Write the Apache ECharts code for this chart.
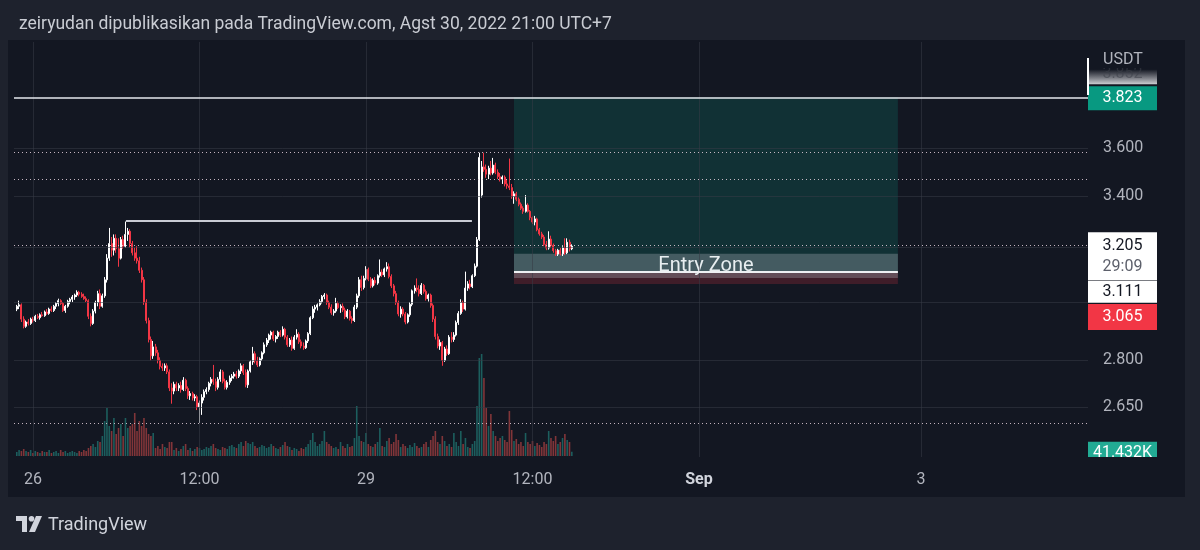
<!DOCTYPE html>
<html><head><meta charset="utf-8">
<script src="https://cdn.jsdelivr.net/npm/echarts@6/dist/echarts.min.js"></script>
<style>html,body{margin:0;padding:0;background:#1e222d;}#c{width:1200px;height:550px;}</style>
</head><body><div id="c"></div>
<script>
const headerText = 'zeiryudan dipublikasikan pada TradingView.com, Agst 30, 2022 21:00 UTC+7';
// x values are hours since 26 Aug 2022 00:00 (UTC+7); 30-minute candles
const firstCandleHour = -3.5;
const candleStepHours = 0.5;
// [open, high, low, close]
const ohlc = [
[2.975,2.990,2.968,2.985],[2.985,3.005,2.975,2.990],[2.990,2.995,2.930,2.940],[2.940,2.950,2.908,2.915],
[2.915,2.935,2.910,2.930],[2.930,2.940,2.918,2.925],[2.925,2.945,2.920,2.940],[2.940,2.948,2.928,2.935],
[2.935,2.955,2.930,2.950],[2.950,2.958,2.940,2.945],[2.945,2.960,2.938,2.955],[2.955,2.965,2.948,2.952],
[2.952,2.970,2.948,2.965],[2.965,2.975,2.955,2.960],[2.960,2.980,2.955,2.975],[2.975,2.985,2.965,2.970],
[2.970,2.990,2.965,2.985],[2.985,3.000,2.975,2.995],[2.995,3.012,2.985,3.005],[3.005,3.010,2.990,2.995],
[2.995,3.000,2.965,2.970],[2.970,2.990,2.962,2.985],[2.985,3.008,2.980,3.002],[3.002,3.015,2.992,3.010],
[3.010,3.025,3.000,3.018],[3.018,3.030,3.008,3.025],[3.025,3.042,3.018,3.035],[3.035,3.040,3.020,3.028],
[3.028,3.035,3.015,3.020],[3.020,3.030,3.008,3.012],[3.012,3.020,3.000,3.005],[3.005,3.010,2.940,2.950],
[2.950,2.960,2.915,2.925],[2.925,2.975,2.920,2.968],[2.968,3.005,2.960,2.998],[2.998,3.040,2.985,3.030],
[3.030,3.045,2.975,2.985],[2.985,3.030,2.980,3.022],[3.022,3.090,3.015,3.080],[3.080,3.175,3.070,3.160],
[3.160,3.275,3.150,3.215],[3.215,3.240,3.165,3.190],[3.190,3.250,3.170,3.235],[3.235,3.250,3.180,3.195],
[3.195,3.235,3.128,3.160],[3.160,3.240,3.155,3.230],[3.230,3.245,3.195,3.205],[3.205,3.300,3.200,3.250],
[3.250,3.275,3.225,3.262],[3.262,3.270,3.200,3.215],[3.215,3.225,3.170,3.180],[3.180,3.200,3.150,3.160],
[3.160,3.205,3.140,3.150],[3.150,3.165,3.105,3.115],[3.115,3.125,3.070,3.080],[3.080,3.090,2.990,3.000],
[3.000,3.010,2.925,2.935],[2.935,2.945,2.860,2.870],[2.870,2.880,2.800,2.815],[2.815,2.865,2.805,2.845],
[2.845,2.855,2.815,2.825],[2.825,2.835,2.790,2.800],[2.800,2.810,2.770,2.780],[2.780,2.790,2.765,2.775],
[2.775,2.790,2.765,2.782],[2.782,2.790,2.755,2.762],[2.762,2.770,2.700,2.710],[2.710,2.725,2.660,2.700],
[2.700,2.730,2.690,2.722],[2.722,2.730,2.700,2.710],[2.710,2.725,2.700,2.718],[2.718,2.730,2.695,2.705],
[2.705,2.745,2.700,2.735],[2.735,2.740,2.700,2.708],[2.708,2.715,2.675,2.685],[2.685,2.700,2.672,2.692],
[2.692,2.698,2.670,2.678],[2.678,2.690,2.668,2.682],[2.682,2.688,2.640,2.650],[2.650,2.670,2.600,2.662],
[2.662,2.690,2.625,2.680],[2.680,2.705,2.670,2.698],[2.698,2.712,2.690,2.705],[2.705,2.730,2.698,2.725],
[2.725,2.745,2.715,2.738],[2.738,2.785,2.720,2.730],[2.730,2.740,2.700,2.712],[2.712,2.745,2.705,2.738],
[2.738,2.770,2.730,2.762],[2.762,2.768,2.725,2.732],[2.732,2.740,2.705,2.712],[2.712,2.735,2.705,2.728],
[2.728,2.750,2.720,2.742],[2.742,2.755,2.732,2.748],[2.748,2.762,2.740,2.755],[2.755,2.765,2.740,2.748],
[2.748,2.770,2.742,2.765],[2.765,2.790,2.755,2.782],[2.782,2.788,2.752,2.760],[2.760,2.770,2.712,2.720],
[2.720,2.770,2.710,2.765],[2.765,2.800,2.760,2.795],[2.795,2.845,2.785,2.822],[2.822,2.830,2.790,2.798],
[2.798,2.812,2.778,2.785],[2.785,2.810,2.780,2.805],[2.805,2.830,2.798,2.825],[2.825,2.860,2.820,2.852],
[2.852,2.875,2.845,2.868],[2.868,2.890,2.858,2.885],[2.885,2.900,2.870,2.895],[2.895,2.900,2.865,2.872],
[2.872,2.885,2.860,2.880],[2.880,2.900,2.872,2.895],[2.895,2.902,2.878,2.885],[2.885,2.915,2.880,2.905],
[2.905,2.910,2.870,2.878],[2.878,2.885,2.845,2.852],[2.852,2.875,2.845,2.868],[2.868,2.880,2.832,2.840],
[2.840,2.885,2.835,2.878],[2.878,2.905,2.870,2.888],[2.888,2.895,2.855,2.862],[2.862,2.870,2.840,2.848],
[2.848,2.860,2.835,2.842],[2.842,2.870,2.838,2.865],[2.865,2.895,2.858,2.890],[2.890,2.950,2.885,2.945],
[2.945,2.985,2.940,2.975],[2.975,2.990,2.962,2.982],[2.982,2.995,2.970,2.990],[2.990,3.010,2.985,3.002],
[3.002,3.025,2.995,3.020],[3.020,3.032,3.010,3.025],[3.025,3.030,2.990,2.998],[2.998,3.005,2.975,2.982],
[2.982,2.992,2.955,2.962],[2.962,2.975,2.952,2.968],[2.968,3.015,2.962,2.995],[2.995,3.002,2.975,2.980],
[2.980,2.992,2.962,2.985],[2.985,2.995,2.965,2.972],[2.972,2.980,2.940,2.948],[2.948,2.975,2.942,2.968],
[2.968,2.972,2.935,2.942],[2.942,2.950,2.925,2.935],[2.935,2.990,2.930,2.982],[2.982,3.030,2.975,3.022],
[3.022,3.090,3.015,3.080],[3.080,3.095,3.040,3.052],[3.052,3.095,3.045,3.085],[3.085,3.130,3.078,3.118],
[3.118,3.125,3.075,3.082],[3.082,3.090,3.050,3.058],[3.058,3.085,3.052,3.078],[3.078,3.090,3.060,3.068],
[3.068,3.100,3.062,3.095],[3.095,3.155,3.088,3.108],[3.108,3.118,3.090,3.098],[3.098,3.125,3.090,3.120],
[3.120,3.145,3.110,3.128],[3.128,3.140,3.085,3.092],[3.092,3.100,3.050,3.058],[3.058,3.065,3.020,3.030],
[3.030,3.040,2.990,2.998],[2.998,3.005,2.950,2.958],[2.958,2.985,2.945,2.975],[2.975,2.982,2.950,2.958],
[2.958,2.965,2.922,2.930],[2.930,2.960,2.925,2.955],[2.955,3.000,2.948,2.992],[2.992,3.045,2.985,3.040],
[3.040,3.060,3.030,3.050],[3.050,3.085,3.035,3.045],[3.045,3.060,3.020,3.030],[3.030,3.068,3.025,3.060],
[3.060,3.065,3.030,3.038],[3.038,3.045,3.005,3.012],[3.012,3.030,3.002,3.025],[3.025,3.030,2.980,2.988],
[2.988,2.995,2.930,2.940],[2.940,2.950,2.870,2.880],[2.880,2.890,2.840,2.848],[2.848,2.870,2.835,2.860],
[2.860,2.865,2.782,2.800],[2.800,2.845,2.795,2.838],[2.838,2.850,2.815,2.822],[2.822,2.885,2.818,2.878],
[2.878,2.895,2.860,2.870],[2.870,2.895,2.862,2.885],[2.885,2.935,2.880,2.928],[2.928,2.968,2.920,2.960],
[2.960,3.010,2.955,2.998],[2.998,3.005,2.965,2.975],[2.975,3.110,2.970,3.050],[3.050,3.075,3.040,3.065],
[3.065,3.080,3.045,3.055],[3.055,3.100,3.050,3.095],[3.095,3.140,3.090,3.130],[3.130,3.240,3.125,3.230],
[3.230,3.580,3.225,3.560],[3.405,3.545,3.395,3.520],[3.520,3.580,3.500,3.510],[3.510,3.530,3.475,3.490],
[3.490,3.525,3.470,3.515],[3.515,3.545,3.485,3.495],[3.495,3.558,3.488,3.528],[3.528,3.538,3.490,3.498],
[3.498,3.510,3.470,3.480],[3.480,3.495,3.460,3.470],[3.470,3.485,3.450,3.478],[3.478,3.485,3.440,3.450],
[3.450,3.470,3.430,3.442],[3.442,3.555,3.425,3.435],[3.435,3.450,3.390,3.400],[3.400,3.420,3.370,3.410],
[3.410,3.418,3.380,3.388],[3.388,3.395,3.360,3.368],[3.368,3.375,3.345,3.352],[3.352,3.360,3.330,3.340],
[3.340,3.405,3.335,3.365],[3.365,3.372,3.335,3.340],[3.340,3.345,3.305,3.315],[3.315,3.320,3.290,3.298],
[3.298,3.322,3.285,3.310],[3.310,3.315,3.262,3.268],[3.268,3.275,3.245,3.252],[3.252,3.260,3.232,3.240],
[3.240,3.248,3.205,3.212],[3.212,3.225,3.190,3.198],[3.198,3.262,3.192,3.232],[3.232,3.245,3.200,3.208],
[3.208,3.215,3.180,3.188],[3.188,3.195,3.168,3.175],[3.175,3.195,3.168,3.190],[3.190,3.198,3.170,3.176],
[3.176,3.205,3.168,3.198],[3.198,3.235,3.172,3.180],[3.180,3.235,3.175,3.220],[3.220,3.230,3.185,3.195],
[3.195,3.212,3.190,3.205]
];
// volume in thousands (USDT)
const volume = [
40,60,50,70,
50,40,60,30,50,40,30,50,40,40,60,30,40,50,30,60,40,50,30,40,50,40,30,50,40,60,50,
80,100,120,90,150,140,200,
350,480,300,250,380,220,280,320,200,380,280,300,320,430,250,350,300,380,280,220,200,
230,80,100,70,120,90,80,140,140,
60,80,50,70,100,120,60,80,50,70,90,80,
60,70,90,80,100,120,80,70,60,90,80,70,100,110,90,80,120,140,100,150,130,
120,140,100,80,90,110,100,80,90,120,100,80,70,90,110,140,100,90,
60,80,70,50,80,70,90,120,160,230,140,100,120,150,250,140,120,100,80,90,70,140,100,80,120,90,100,
180,500,200,150,140,230,120,100,90,120,140,280,100,90,150,
180,120,140,220,160,90,120,100,80,110,90,130,100,80,90,120,140,90,160,200,
250,140,120,200,150,100,120,90,230,140,100,250,120,180,90,80,120,150,
500,980,1020,780,480,300,420,250,200,150,180,200,
160,140,450,260,150,170,120,140,100,230,140,120,150,100,130,110,90,140,120,250,180,150,200,120,140,180,220,160,140,41.432
];
const timeTicks = [0, 36, 72, 108, 144, 192];
const timeLabels = ['26', '12:00', '29', '12:00', 'Sep', '3'];
const priceGrid = [3.6, 3.4, 3.2, 3.0, 2.8, 2.65];
const priceLabels = [3.6, 3.4, 2.8, 2.65];
const hiLoLevels = [3.580, 3.466, 2.600];
const lastPrice = 3.205;
const countdown = '29:09';
const fadedPrice = 3.852;
const target = 3.823, entry = 3.111, stop = 3.065;
const entryZone = [3.176, 3.087];
const positionHours = [104, 187];
const resistance = {from: 20.1, to: 94.9, price: 3.302};
const lastVolume = 41.432;
const xRange = [-4.1, 228.1];
const yRange = [2.4974, 4.081];

const FONT = 'Roboto, "Noto Sans", sans-serif';
const isUp = r => r[3] >= r[0];
const candleHours = ohlc.map((r, i) => firstCandleHour + i * candleStepHours);
const candleData = ohlc.map((r, i) => [candleHours[i], r[0], r[3], r[2], r[1]]);
const volumeData = volume.map((v, i) => ({
  value: [candleHours[i], v],
  itemStyle: {color: isUp(ohlc[i]) ? 'rgba(38,166,154,0.5)' : 'rgba(239,83,80,0.5)'}
}));

const gridLine = {color: 'rgba(54,58,70,0.55)', width: 1, type: 'solid'};
const dotLine = {color: 'rgba(228,208,220,0.85)', width: 1, type: [1, 3]};
const axisText = {color: '#b2b5be', fontSize: 16, fontFamily: FONT};

const lines = [];
priceGrid.forEach(p => lines.push({
  yAxis: p, lineStyle: gridLine,
  label: {show: priceLabels.includes(p), position: 'end', distance: 15, formatter: p.toFixed(3), ...axisText, padding: [4, 0, 0, 0]}
}));
timeTicks.forEach(h => lines.push({xAxis: h, lineStyle: gridLine, label: {show: false}}));
hiLoLevels.forEach(p => lines.push({yAxis: p, lineStyle: dotLine, label: {show: false}}));
lines.push({yAxis: lastPrice, lineStyle: dotLine, label: {show: false}});
lines.push({yAxis: target, lineStyle: {color: '#e6e8ee', width: 1.5, type: 'solid'}, label: {show: false}});
lines.push([{coord: [resistance.from, resistance.price], lineStyle: {color: '#c9ccd4', width: 2, type: 'solid'}, label: {show: false}},
            {coord: [resistance.to, resistance.price]}]);
lines.push([{coord: [positionHours[0], entry], lineStyle: {color: '#eef0f3', width: 2, type: 'solid'}, label: {show: false}},
            {coord: [positionHours[1], entry]}]);

const tagW = 69;
function tag(price, h, dy, bg, text, color, rich) {
  return {
    coord: [xRange[1], price], symbol: 'rect', symbolSize: [tagW, h], symbolOffset: [tagW / 2, dy],
    itemStyle: {color: bg},
    label: {show: true, position: 'inside', formatter: text, color: color, fontSize: 16, fontFamily: FONT, rich: rich || {}}
  };
}
const tags = [
  tag(fadedPrice, 15, -14, {type: 'linear', x: 0, y: 0, x2: 0, y2: 1,
      colorStops: [{offset: 0, color: 'rgba(200,200,205,0)'}, {offset: 1, color: 'rgba(215,216,220,0.95)'}]},
      '{f|' + fadedPrice.toFixed(3) + '}', '#7a7d86',
      {f: {color: 'rgba(60,63,72,0.55)', fontSize: 16, fontFamily: FONT, lineHeight: 14, padding: [0, 0, 6, 0]}}),
  tag(target, 24, 1, '#089981', target.toFixed(3), '#ffffff'),
  tag(lastPrice, 48, 10, '#ffffff', '{a|' + lastPrice.toFixed(3) + '}\n{b|' + countdown + '}', '#131722',
      {a: {color: '#131722', fontSize: 16, lineHeight: 21, fontFamily: FONT}, b: {color: '#5d606b', fontSize: 16, lineHeight: 21, fontFamily: FONT}}),
  tag(entry, 22, 20.5, '#ffffff', entry.toFixed(3), '#131722'),
  tag(stop, 26, 33, '#f23645', stop.toFixed(3), '#ffffff')
];

const option = {
  backgroundColor: '#1e222d',
  animation: false,
  title: {text: headerText, left: 14, top: 11, textStyle: {color: '#c9ccd3', fontSize: 17.5, fontWeight: 'normal', fontFamily: FONT}},
  graphic: [
    {type: 'rect', shape: {x: 8, y: 40, width: 1177, height: 457}, style: {fill: '#131722'}, z: 0, silent: true},
    {type: 'rect', shape: {x: 1088, y: 42, width: 80, height: 26}, style: {fill: '#131722'}, z: 100, silent: true},
    {type: 'text', style: {x: 1103, y: 60, text: 'USDT', fill: '#b2b5be', font: '16px ' + FONT, textVerticalAlign: 'middle'}, z: 101},
    {type: 'line', shape: {x1: 1088, y1: 58, x2: 1088, y2: 95}, style: {stroke: '#ffffff', lineWidth: 2}, z: 101},
    {type: 'rect', shape: {x: 1086, y: 457, width: 76, height: 10}, style: {fill: '#131722'}, z: 100},
    // TradingView logo
    {type: 'group', left: 16, top: 516, children: [
      {type: 'polygon', shape: {points: [[0, 0], [11, 0], [11, 16], [6, 16], [6, 5], [0, 5]]}, style: {fill: '#d1d4dc'}},
      {type: 'circle', shape: {cx: 15.5, cy: 2.8, r: 2.8}, style: {fill: '#d1d4dc'}},
      {type: 'polygon', shape: {points: [[20, 0], [26, 0], [19, 16], [13, 16]]}, style: {fill: '#d1d4dc'}}
    ]},
    {type: 'text', style: {x: 48, y: 525, text: 'TradingView', fill: '#d1d4dc', font: '18px ' + FONT, textVerticalAlign: 'middle'}}
  ],
  grid: [
    {left: 14, right: 112, top: 42, bottom: 93},
    {left: 14, right: 112, top: 347, bottom: 94}
  ],
  xAxis: [
    {type: 'value', gridIndex: 0, min: xRange[0], max: xRange[1],
     axisLine: {show: false}, axisTick: {show: false}, splitLine: {show: false},
     axisLabel: {customValues: timeTicks, margin: 15, ...axisText,
       formatter: v => { const i = timeTicks.indexOf(v); const t = i >= 0 ? timeLabels[i] : ''; return t === 'Sep' ? '{b|Sep}' : t; },
       rich: {b: {fontWeight: 'bold', color: '#d1d4dc', fontSize: 16, fontFamily: FONT}}}},
    {type: 'value', gridIndex: 1, min: xRange[0], max: xRange[1], show: false}
  ],
  yAxis: [
    {type: 'log', gridIndex: 0, min: yRange[0], max: yRange[1], position: 'right',
     axisLine: {show: false}, axisTick: {show: false}, axisLabel: {show: false}, splitLine: {show: false}},
    {type: 'value', gridIndex: 1, min: 0, max: 1090, show: false, splitLine: {show: false}}
  ],
  series: [
    {type: 'candlestick', name: 'XRP/USDT', xAxisIndex: 0, yAxisIndex: 0, data: candleData,
     encode: {x: 0, y: [1, 2, 3, 4]}, barWidth: 1.5,
     itemStyle: {color: '#ffffff', color0: '#f23645', borderColor: '#ffffff', borderColor0: '#f23645', borderWidth: 1},
     markArea: {silent: true, label: {show: false}, data: [
       [{coord: [positionHours[0], entry], itemStyle: {color: 'rgba(8,153,129,0.2)'}}, {coord: [positionHours[1], target]}],
       [{coord: [positionHours[0], stop], itemStyle: {color: 'rgba(242,54,69,0.2)'}}, {coord: [positionHours[1], entry]}],
       [{coord: [positionHours[0], entryZone[0]], itemStyle: {color: 'rgba(178,181,190,0.32)'},
         label: {show: true, position: 'inside', formatter: 'Entry Zone', color: '#e8eef0', fontSize: 20, fontFamily: FONT}},
        {coord: [positionHours[1], entryZone[1]]}]
     ]},
     markLine: {silent: true, symbol: ['none', 'none'], label: {show: false}, data: lines},
     markPoint: {silent: true, data: tags}
    },
    {type: 'bar', name: 'Volume', xAxisIndex: 1, yAxisIndex: 1, data: volumeData, barWidth: 1.6,
     markPoint: {silent: true, data: [{
       coord: [xRange[1], lastVolume], symbol: 'rect', symbolSize: [tagW, 22], symbolOffset: [tagW / 2, 1],
       itemStyle: {color: '#22ab94'},
       label: {show: true, position: 'inside', formatter: (lastVolume).toFixed(3) + 'K', color: '#ffffff', fontSize: 16, fontFamily: FONT}
     }]}}
  ]
};
const chart = echarts.init(document.getElementById('c'));
chart.setOption(option);
</script></body></html>
